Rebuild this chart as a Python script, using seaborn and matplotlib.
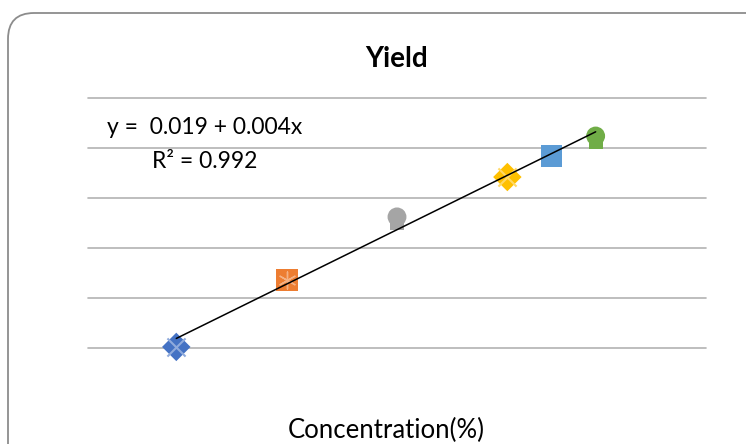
import numpy as np
import pandas as pd
import matplotlib
matplotlib.use("Agg")
import matplotlib.pyplot as plt
import seaborn as sns
from matplotlib.patches import FancyBboxPatch
from matplotlib.transforms import IdentityTransform

# ---- data ----
concentration = [0, 5, 10, 15, 17, 19]
yield_values = [0.0176, 0.0416, 0.0642, 0.0785, 0.0860, 0.0932]
series = ["S1", "S2", "S3", "S4", "S5", "S6"]
colors = ["#4472C4", "#ED7D31", "#A5A5A5", "#FFC000", "#5B9BD5", "#70AD47"]
overlay_colors = ["#8FAADC", "#F4B183", "#A5A5A5", "#FFD966", "#5B9BD5", "#70AD47"]
main_markers = ["D", "s", "o", "D", "s", "o"]
title = "Yield"
xlabel = "Concentration(%)"
eq_line1 = "y =  0.019 + 0.004x"
eq_line2 = "R\u00b2 = 0.992"

df = pd.DataFrame({"x": concentration, "y": yield_values, "series": series})

sns.set_theme(style="white")
plt.rcParams["font.family"] = ["Lato", "DejaVu Sans"]

fig = plt.figure(figsize=(7.46, 4.44), dpi=100)
ax = fig.add_axes([88 / 746, 1 - 348 / 444, (706 - 88) / 746, (348 - 98) / 444])

# rounded chart border
border = FancyBboxPatch((8, -60), 800, 444 - 13 + 60,
                        boxstyle="round,pad=0,rounding_size=26",
                        transform=IdentityTransform(), fill=False,
                        edgecolor="#8c8c8c", linewidth=1.3, zorder=0)
fig.patches.append(border)

ylo, yhi = 0.01721, 0.10683
ax.set_xlim(-4, 24)
ax.set_ylim(ylo, yhi)
for yv in np.linspace(ylo, yhi, 6):
    ax.axhline(yv, color="#b3b3b3", linewidth=1.2, zorder=1, clip_on=False)

# markers
sizes = {"D": 210, "s": 250, "o": 185}
for i, row in df.iterrows():
    m = main_markers[i]
    sub = df.iloc[[i]]
    if m == "o":
        # pawn-like base
        ax.plot(row.x, row.y - 0.0021, marker="s", markersize=10, color=colors[i],
                markeredgewidth=0, linestyle="none", zorder=3)
    sns.scatterplot(data=sub, x="x", y="y", marker=m, s=sizes[m], color=colors[i],
                    edgecolor="none", linewidth=0, ax=ax, zorder=3, legend=False)
    if m == "D":
        sns.scatterplot(data=sub, x="x", y="y", marker="x", s=170, color=overlay_colors[i],
                        linewidth=1.5, ax=ax, zorder=4, legend=False)
    if m == "s" and i == 1:
        sns.scatterplot(data=sub, x="x", y="y", marker=(6, 2, 0), s=150, color=overlay_colors[i],
                        linewidth=1.0, ax=ax, zorder=4, legend=False)

# trend line
sns.regplot(data=df, x="x", y="y", scatter=False, ci=None, truncate=True,
            line_kws={"color": "black", "linewidth": 1.1, "zorder": 5}, ax=ax)

for art in list(ax.collections) + list(ax.lines):
    art.set_clip_on(False)

ax.set_xlabel("")
ax.set_ylabel("")
ax.set_xticks([])
ax.set_yticks([])
for s in ax.spines.values():
    s.set_visible(False)
ax.patch.set_alpha(0)

fig.text(397 / 746, 1 - 59 / 444, title, ha="center", va="center",
         fontsize=20, fontweight="bold", color="black")
fig.text(386 / 746, 1 - 430 / 444, xlabel, ha="center", va="center",
         fontsize=18.5, color="black")
fig.text(107 / 746, 1 - 127 / 444, eq_line1, ha="left", va="center",
         fontsize=16.5, color="black")
fig.text(152 / 746, 1 - 161 / 444, eq_line2, ha="left", va="center",
         fontsize=16.5, color="black")

fig.savefig("out.png", dpi=100, facecolor="white")
